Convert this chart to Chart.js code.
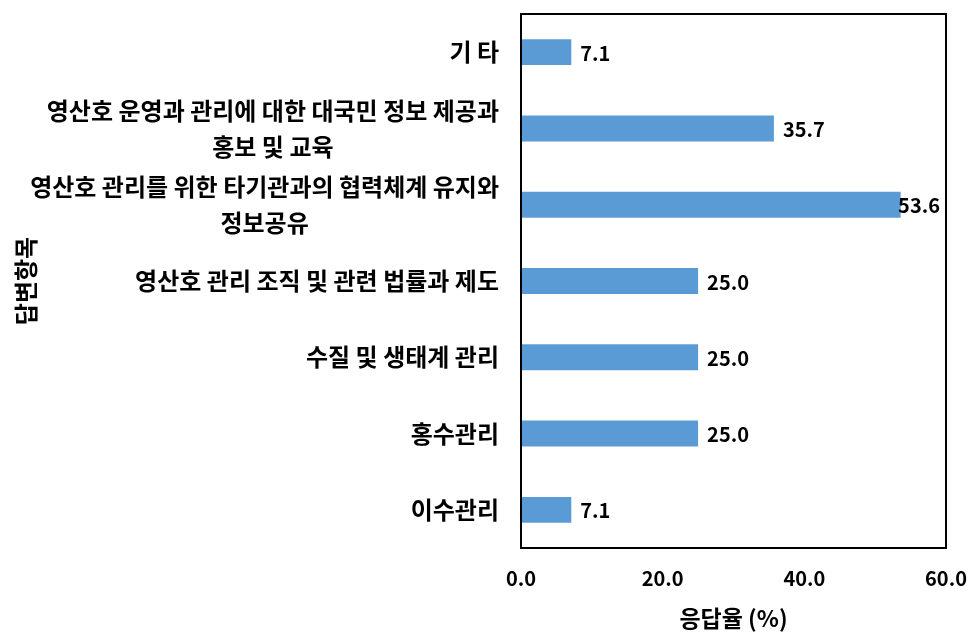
<!DOCTYPE html>
<html><head><meta charset="utf-8">
<script src="https://cdn.jsdelivr.net/npm/chart.js@4"></script>
<style>html,body{margin:0;padding:0;background:#fff}#wrap{width:978px;height:640px}</style>
</head><body><div id="wrap"><canvas id="c" width="978" height="640"></canvas></div>
<script>
const categories = [
  ["기 타"],
  ["영산호 운영과 관리에 대한 대국민 정보 제공과", "홍보 및 교육"],
  ["영산호 관리를 위한 타기관과의 협력체계 유지와", "정보공유"],
  ["영산호 관리 조직 및 관련 법률과 제도"],
  ["수질 및 생태계 관리"],
  ["홍수관리"],
  ["이수관리"]
];
const values = [7.1, 35.7, 53.6, 25.0, 25.0, 25.0, 7.1];
const xTicks = [0, 20, 40, 60];
const xTitle = "응답율 (%)";
const yTitle = "답변항목";

const FONT = "'Noto Sans CJK KR', 'Noto Sans', sans-serif";

const customPlugin = {
  id: 'custom',
  afterDatasetsDraw(chart) {
    const ctx = chart.ctx;
    const ca = chart.chartArea;
    const yScale = chart.scales.y;
    ctx.save();
    ctx.strokeStyle = '#000';
    ctx.lineWidth = 2;
    ctx.strokeRect(ca.left, ca.top, ca.right - ca.left, ca.bottom - ca.top);
    ctx.fillStyle = '#000';
    ctx.font = "bold 24px " + FONT;
    ctx.textBaseline = 'middle';
    ctx.textAlign = 'center';
    const rightEdge = ca.left - 22;
    const lineH = 36;
    categories.forEach((lines, i) => {
      const yc = yScale.getPixelForValue(i);
      const maxW = Math.max(...lines.map(l => ctx.measureText(l).width));
      const cx = rightEdge - maxW / 2;
      const startY = yc - (lines.length - 1) * lineH / 2;
      lines.forEach((l, j) => ctx.fillText(l, cx, startY + j * lineH));
    });
    ctx.font = "bold 20px " + FONT;
    ctx.textAlign = 'left';
    const meta = chart.getDatasetMeta(0);
    meta.data.forEach((bar, i) => {
      const txt = values[i].toFixed(1);
      const w = ctx.measureText(txt).width;
      const x = Math.min(bar.x + 9, ca.right - w - 6);
      ctx.fillText(txt, x, bar.y + 1);
    });
    ctx.restore();
  }
};

new Chart(document.getElementById('c'), {
  type: 'bar',
  data: {
    labels: categories.map(c => c.join(' ')),
    datasets: [{
      data: values,
      backgroundColor: '#5B9BD5',
      borderWidth: 0,
      categoryPercentage: 1,
      barPercentage: 0.34
    }]
  },
  options: {
    indexAxis: 'y',
    responsive: false,
    animation: false,
    devicePixelRatio: 1,
    layout: { padding: { left: 0, right: 32, top: 14, bottom: 0 } },
    plugins: { legend: { display: false }, tooltip: { enabled: false } },
    scales: {
      x: {
        min: 0, max: 60,
        afterBuildTicks(scale) { scale.ticks = xTicks.map(v => ({ value: v })); },
        afterFit(scale) { scale.height = 92; scale.paddingLeft = 0; scale.paddingRight = 0; },
        grid: { display: false, drawTicks: false },
        border: { display: false },
        ticks: {
          padding: 18,
          color: '#000',
          font: { family: FONT, size: 20, weight: 'bold' },
          callback: v => Number(v).toFixed(1),
          maxRotation: 0
        },
        title: {
          display: true, text: xTitle, color: '#000',
          font: { family: FONT, size: 23, weight: 'bold' },
          padding: { top: 0, bottom: 8 }
        }
      },
      y: {
        afterFit(scale) { scale.width = 521; },
        grid: { display: false, drawTicks: false },
        border: { display: false },
        ticks: { display: false },
        title: {
          display: true, text: yTitle, color: '#000',
          font: { family: FONT, size: 24, weight: 'bold' },
          padding: { top: 11, bottom: 0 }
        }
      }
    }
  },
  plugins: [customPlugin]
});
</script></body></html>
